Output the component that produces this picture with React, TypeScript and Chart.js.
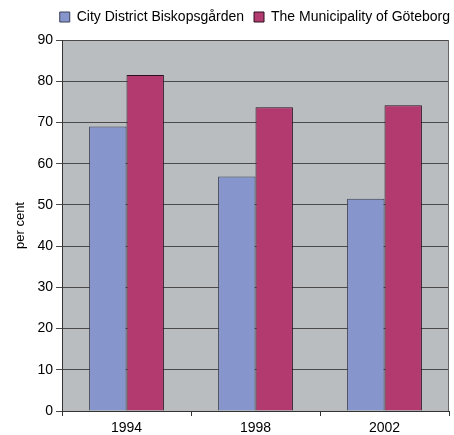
import React, { useEffect, useRef } from "react";
import { Chart, registerables } from "chart.js";

Chart.register(...registerables);

const categories = ["1994", "1998", "2002"];
const seriesNames = ["City District Biskopsgården", "The Municipality of Göteborg"];
const biskopsgarden = [69.0, 56.9, 51.5];
const goteborg = [81.5, 73.7, 74.2];
const yTicks = { min: 0, max: 90, step: 10 };

const FONT = "'Liberation Sans', Arial, sans-serif";

export default function App() {
  const ref = useRef<HTMLCanvasElement>(null);

  useEffect(() => {
    document.body.style.margin = "0";
    const canvas = ref.current;
    if (!canvas) return;

    const bgPlugin = {
      id: "plotBg",
      beforeDraw(chart: any) {
        const { ctx, chartArea: a } = chart;
        ctx.save();
        ctx.fillStyle = "#B9BDBF";
        ctx.fillRect(a.left, a.top, a.right - a.left, a.bottom - a.top);
        ctx.restore();
      },
      afterDraw(chart: any) {
        const { ctx, chartArea: a } = chart;
        ctx.save();
        ctx.strokeStyle = "#666";
        ctx.lineWidth = 1;
        ctx.beginPath();
        ctx.moveTo(Math.round(a.right) - 0.5, a.top);
        ctx.lineTo(Math.round(a.right) - 0.5, a.bottom);
        ctx.stroke();
        ctx.restore();
      },
    };

    const legendFit = {
      id: "legendFit",
      beforeInit(chart: any) {
        const orig = chart.legend.fit;
        chart.legend.fit = function () {
          orig.bind(chart.legend)();
          this.height = 40;
        };
      },
      afterLayout(chart: any) {
        if (chart.legend) {
          chart.legend.left += 11;
          chart.legend.right += 11;
        }
      },
    };

    const chart = new Chart(canvas, {
      type: "bar",
      data: {
        labels: categories,
        datasets: [
          {
            label: seriesNames[0],
            data: biskopsgarden,
            backgroundColor: "#8696CC",
            borderColor: "#3a3f55",
            borderWidth: 1,
          },
          {
            label: seriesNames[1],
            data: goteborg,
            backgroundColor: "#B23A6F",
            borderColor: "#2a1020",
            borderWidth: 1,
          },
        ],
      },
      options: {
        animation: false,
        responsive: false,
        maintainAspectRatio: false,
        layout: { padding: { left: 0, right: 5, top: 0, bottom: 0 } },
        datasets: {
          bar: { categoryPercentage: 0.58, barPercentage: 1.0 },
        },
        plugins: {
          legend: {
            position: "top",
            align: "end",
            labels: {
              boxWidth: 10,
              boxHeight: 10,
              padding: 10,
              color: "#000",
              font: { family: FONT, size: 14 },
            },
          },
          tooltip: { enabled: false },
        },
        scales: {
          x: {
            afterFit(scale: any) {
              scale.height = 24;
            },
            grid: {
              offset: true,
              drawOnChartArea: false,
              drawTicks: true,
              tickLength: 5,
              color: "#333",
            },
            border: { color: "#333", width: 1 },
            ticks: {
              color: "#000",
              padding: 4,
              font: { family: FONT, size: 14 },
            },
          },
          y: {
            min: yTicks.min,
            max: yTicks.max,
            afterFit(scale: any) {
              scale.width = 62;
            },
            ticks: {
              stepSize: yTicks.step,
              color: "#000",
              padding: 3,
              font: { family: FONT, size: 14 },
            },
            grid: {
              color: "#4a4a4a",
              lineWidth: 1,
              tickLength: 6,
            },
            border: { color: "#333", width: 1 },
            title: {
              display: true,
              text: "per cent",
              color: "#000",
              font: { family: FONT, size: 13 },
              padding: { top: 13, bottom: 0 },
            },
          },
        },
      },
      plugins: [bgPlugin, legendFit],
    } as any);

    return () => chart.destroy();
  }, []);

  return (
    <div style={{ width: 454, height: 435 }}>
      <canvas ref={ref} width={454} height={435} style={{ display: "block" }} />
    </div>
  );
}
